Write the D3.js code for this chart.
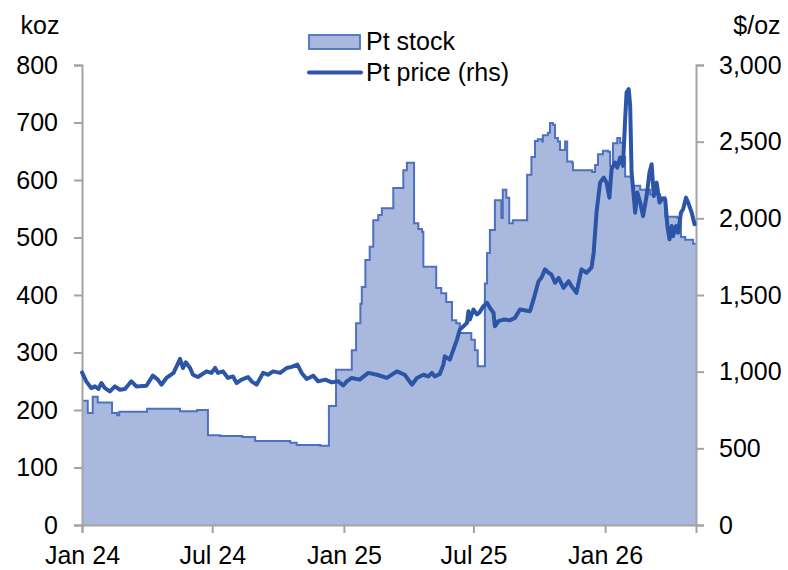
<!DOCTYPE html>
<html>
<head>
<meta charset="utf-8">
<script src="https://cdn.jsdelivr.net/npm/d3@7/dist/d3.min.js"></script>
<style>
  html, body { margin: 0; padding: 0; background: #fff; }
  svg { display: block; }
  text { font-family: "Liberation Sans", Arial, sans-serif; fill: #000; }
</style>
</head>
<body>
<svg id="chart" width="788" height="570"></svg>
<script>
// ---- data ----
const stockDates = ["2024-01-01","2024-01-09","2024-01-16","2024-01-23","2024-02-12","2024-02-19","2024-02-22","2024-04-01","2024-05-17","2024-06-10","2024-06-25","2024-07-12","2024-08-12","2024-08-30","2024-10-18","2024-10-27","2024-11-29","2024-12-11","2024-12-21","2025-01-12","2025-01-18","2025-01-24","2025-01-26","2025-01-31","2025-02-06","2025-02-11","2025-02-18","2025-02-23","2025-03-11","2025-03-25","2025-03-30","2025-04-09","2025-04-15","2025-04-20","2025-04-22","2025-05-10","2025-05-17","2025-05-24","2025-06-01","2025-06-07","2025-06-12","2025-06-28","2025-07-03","2025-07-07","2025-07-17","2025-07-20","2025-07-24","2025-07-31","2025-08-04","2025-08-09","2025-08-11","2025-08-16","2025-08-20","2025-08-25","2025-09-14","2025-09-20","2025-09-25","2025-09-29","2025-10-05","2025-10-06","2025-10-13","2025-10-16","2025-10-20","2025-10-23","2025-10-27","2025-10-30","2025-11-06","2025-11-09","2025-11-16","2025-11-17","2025-12-14","2025-12-18","2025-12-22","2025-12-29","2026-01-05","2026-01-08","2026-01-12","2026-01-18","2026-01-22","2026-01-26","2026-01-29","2026-02-08","2026-02-19","2026-03-05","2026-03-19","2026-03-26","2026-04-12","2026-04-17","2026-04-23","2026-05-04","2026-05-08"];
const stockValues = [216,195,223,213,195,191,197,202,198,200,156,155,153,146,143,139,138,207,270,304,351,385,414,461,484,530,539,551,586,617,630,525,515,510,449,412,403,388,356,351,334,322,304,276,420,473,513,565,565,534,583,569,525,530,609,640,668,671,667,678,682,699,696,673,667,652,667,632,630,617,614,626,645,651,649,624,664,673,665,640,606,590,583,575,570,536,534,501,496,489,489];

const priceDates = ["2024-01-01","2024-01-07","2024-01-14","2024-01-19","2024-01-24","2024-01-28","2024-02-02","2024-02-09","2024-02-16","2024-02-23","2024-03-01","2024-03-10","2024-03-17","2024-03-31","2024-04-09","2024-04-16","2024-04-21","2024-04-28","2024-05-08","2024-05-17","2024-05-21","2024-05-25","2024-05-31","2024-06-04","2024-06-11","2024-06-23","2024-06-30","2024-07-05","2024-07-09","2024-07-16","2024-07-23","2024-07-30","2024-08-04","2024-08-11","2024-08-20","2024-08-25","2024-09-01","2024-09-10","2024-09-17","2024-09-24","2024-10-04","2024-10-13","2024-10-20","2024-10-28","2024-11-03","2024-11-10","2024-11-19","2024-11-26","2024-12-06","2024-12-15","2024-12-24","2024-12-31","2025-01-05","2025-01-12","2025-01-23","2025-02-04","2025-02-16","2025-03-02","2025-03-16","2025-03-27","2025-04-06","2025-04-13","2025-04-22","2025-04-29","2025-05-04","2025-05-08","2025-05-15","2025-05-20","2025-05-22","2025-05-29","2025-06-03","2025-06-08","2025-06-12","2025-06-17","2025-06-22","2025-06-24","2025-06-26","2025-07-01","2025-07-06","2025-07-09","2025-07-15","2025-07-20","2025-07-24","2025-07-29","2025-07-31","2025-08-05","2025-08-12","2025-08-21","2025-08-28","2025-09-04","2025-09-18","2025-09-23","2025-09-30","2025-10-04","2025-10-09","2025-10-14","2025-10-18","2025-10-23","2025-10-28","2025-11-04","2025-11-11","2025-11-15","2025-11-22","2025-11-29","2025-12-06","2025-12-13","2025-12-16","2025-12-20","2025-12-25","2025-12-30","2026-01-03","2026-01-07","2026-01-10","2026-01-15","2026-01-18","2026-01-22","2026-01-26","2026-01-29","2026-01-31","2026-02-03","2026-02-05","2026-02-07","2026-02-10","2026-02-12","2026-02-15","2026-02-19","2026-02-23","2026-02-28","2026-03-04","2026-03-07","2026-03-10","2026-03-14","2026-03-18","2026-03-21","2026-03-26","2026-03-29","2026-04-01","2026-04-04","2026-04-06","2026-04-10","2026-04-13","2026-04-17","2026-04-20","2026-04-24","2026-04-27","2026-05-02","2026-05-06"];
const priceValues = [995,937,893,904,887,926,893,871,904,882,887,937,904,908,974,948,915,959,992,1083,1024,1061,1024,980,965,1002,992,1024,992,1002,959,969,926,948,965,937,915,992,980,1002,992,1024,1031,1046,992,952,974,937,948,930,937,910,937,959,948,992,980,959,1002,980,915,959,980,969,992,969,985,1046,1100,1078,1144,1209,1275,1296,1318,1394,1340,1405,1373,1384,1427,1449,1416,1384,1296,1329,1340,1335,1351,1405,1394,1471,1590,1612,1667,1645,1634,1580,1612,1547,1590,1558,1514,1667,1645,1678,1776,2039,2233,2266,2233,2135,2320,2364,2331,2397,2342,2647,2822,2843,2734,2299,2146,2037,2168,2103,2015,2146,2299,2353,2146,2233,2103,2124,2124,1950,1863,1950,1884,1950,1906,2037,2059,2135,2103,2037,1961];

const leftTicks = [0,100,200,300,400,500,600,700,800];
const rightTicks = [0,500,1000,1500,2000,2500,3000];
const xTickDates = ["2024-01-01","2024-07-01","2025-01-01","2025-07-01","2026-01-01"];
const xTickLabels = ["Jan 24","Jul 24","Jan 25","Jul 25","Jan 26"];
const xDomain = ["2024-01-01","2026-05-08"];
const seriesNames = ["Pt stock","Pt price (rhs)"];
const axisTitles = ["koz","$/oz"];

// ---- layout ----
const parse = d3.utcParse("%Y-%m-%d");
const L = 82, R = 696, T = 65, B = 525;
const FS = 25;
const fillColor = "#A9B9DE";
const stockLine = "#4D70C0";
const priceColor = "#2C55A7";
const axisColor = "#A3A3A3";

const svg = d3.select("#chart");

const x = d3.scaleUtc().domain(xDomain.map(parse)).range([L, R]);
const yL = d3.scaleLinear().domain([0, 800]).range([B, T]);
const yR = d3.scaleLinear().domain([0, 3000]).range([B, T]);

const stock = stockDates.map((d, i) => ({ d: parse(d), v: stockValues[i] }));
const price = priceDates.map((d, i) => ({ d: parse(d), v: priceValues[i] }));

// stock area
const area = d3.area().curve(d3.curveStepAfter)
  .x(p => x(p.d)).y0(yL(0)).y1(p => yL(p.v));
const topLine = d3.line().curve(d3.curveStepAfter)
  .x(p => x(p.d)).y(p => yL(p.v));

svg.append("path").datum(stock).attr("d", area).attr("fill", fillColor);
svg.append("path").datum(stock).attr("d", topLine)
  .attr("fill", "none").attr("stroke", stockLine).attr("stroke-width", 2);

// axes
const gL = svg.append("g").attr("transform", `translate(${L},0)`)
  .call(d3.axisLeft(yL).tickValues(leftTicks).tickSize(8).tickPadding(16).tickFormat(d3.format("d")));
const gR = svg.append("g").attr("transform", `translate(${R},0)`)
  .call(d3.axisRight(yR).tickValues(rightTicks).tickSize(8).tickPadding(15).tickFormat(d3.format(",")));
const gX = svg.append("g").attr("transform", `translate(0,${B})`)
  .call(d3.axisBottom(x).tickValues(xTickDates.map(parse)).tickSize(8).tickPadding(12)
    .tickFormat((d, i) => xTickLabels[i]));

[gL, gR, gX].forEach(g => {
  g.select(".domain").attr("stroke", axisColor).attr("stroke-width", 2);
  g.selectAll(".tick line").attr("stroke", axisColor).attr("stroke-width", 2);
  g.selectAll(".tick text").attr("font-size", FS)
    .attr("font-family", "Liberation Sans, Arial, sans-serif").attr("fill", "#000");
});
gX.selectAll(".tick text").attr("dy", "0.75em");

// price line
const pLine = d3.line().x(p => x(p.d)).y(p => yR(p.v));
svg.append("path").datum(price).attr("d", pLine)
  .attr("fill", "none").attr("stroke", priceColor).attr("stroke-width", 4)
  .attr("stroke-linejoin", "round").attr("stroke-linecap", "round");

// axis titles
svg.append("text").attr("x", 40).attr("y", 34).attr("text-anchor", "middle")
  .attr("font-size", FS).text(axisTitles[0]);
svg.append("text").attr("x", 757).attr("y", 34).attr("text-anchor", "middle")
  .attr("font-size", FS).text(axisTitles[1]);

// legend
const lg = svg.append("g");
lg.append("rect").attr("x", 309).attr("y", 35).attr("width", 51).attr("height", 14)
  .attr("fill", fillColor).attr("stroke", stockLine).attr("stroke-width", 1.8);
lg.append("text").attr("x", 366).attr("y", 50).attr("font-size", FS).text(seriesNames[0]);
lg.append("line").attr("x1", 309).attr("x2", 361).attr("y1", 72.5).attr("y2", 72.5)
  .attr("stroke", priceColor).attr("stroke-width", 4).attr("stroke-linecap", "round");
lg.append("text").attr("x", 366).attr("y", 81).attr("font-size", FS).text(seriesNames[1]);
</script>
</body>
</html>
